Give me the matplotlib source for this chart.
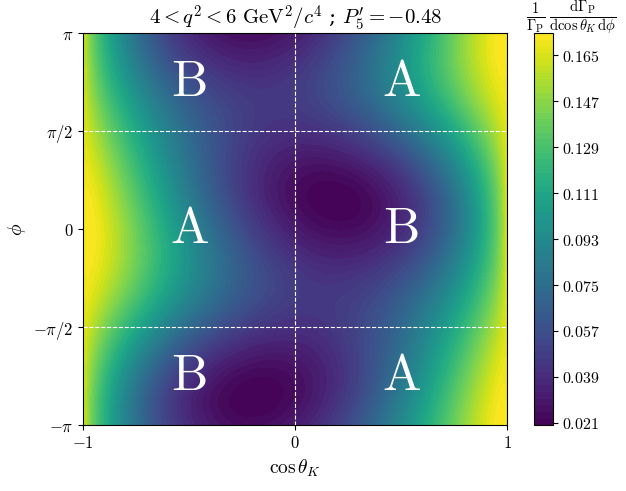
import numpy as np
import matplotlib
matplotlib.use('Agg')
import matplotlib.pyplot as plt

plt.rcParams['mathtext.fontset'] = 'cm'
plt.rcParams['font.family'] = 'serif'
plt.rcParams['font.serif'] = ['DejaVu Serif']

# angular observables (P-wave, integrated over cos theta_l)
P5p = -0.48
FL = 0.70
S3 = -0.0375
S7 = 0.0
S9 = -0.0826
S5 = P5p * np.sqrt(FL * (1 - FL))

xticks = [-1, 0, 1]
xticklabels = ['$-1$', '$0$', '$1$']
yticks = [-np.pi, -np.pi / 2, 0, np.pi / 2, np.pi]
yticklabels = [r'$-\pi$', r'$-\pi/2$', '$0$', r'$\pi/2$', r'$\pi$']
cbar_ticks = [0.021, 0.039, 0.057, 0.075, 0.093, 0.111, 0.129, 0.147, 0.165]
regions = ['B', 'A', 'A', 'B', 'B', 'A']

ck = np.linspace(-1, 1, 500)
phi = np.linspace(-np.pi, np.pi, 500)
C, PHI = np.meshgrid(ck, phi)
S = np.sqrt(1 - C**2)

Z = 3 / (8 * np.pi) * ((1 - FL) * S**2 + 2 * FL * C**2
                       + S3 * S**2 * np.cos(2 * PHI) + S9 * S**2 * np.sin(2 * PHI)
                       + 3 * np.pi / 4 * S * C * (S5 * np.cos(PHI) + S7 * np.sin(PHI)))

fig = plt.figure(figsize=(6.26, 4.91), dpi=100)
ax = fig.add_axes([0.133, 0.134, 0.677, 0.799])
cax = fig.add_axes([0.853, 0.134, 0.030, 0.799])

levels = np.linspace(Z.min(), Z.max(), 60)
cs = ax.contourf(C, PHI, Z, levels=levels, cmap='viridis')

ax.axvline(0, color='white', ls='--', lw=0.8)
ax.axhline(np.pi / 2, color='white', ls='--', lw=0.8)
ax.axhline(-np.pi / 2, color='white', ls='--', lw=0.8)

k = 0
for yy in [3 * np.pi / 4, 0, -3 * np.pi / 4]:
    for xx in [-0.5, 0.5]:
        ax.text(xx, yy, r'$\mathrm{%s}$' % regions[k], color='white', fontsize=37,
                ha='center', va='center')
        k += 1

ax.set_xlim(-1, 1)
ax.set_ylim(-np.pi, np.pi)
ax.set_xticks(xticks)
ax.set_xticklabels(xticklabels, fontsize=12)
ax.set_yticks(yticks)
ax.set_yticklabels(yticklabels, fontsize=12)
ax.set_xlabel(r'$\cos\theta_K$', fontsize=14)
ax.set_ylabel(r'$\phi$', fontsize=14)
ax.set_title(r"$4 < q^2 < 6\ \mathrm{GeV}^2/c^4$ ; $P_5' = -0.48$", fontsize=15, pad=5)

cb = fig.colorbar(cs, cax=cax, ticks=cbar_ticks)
cb.ax.set_yticklabels(['$%.3f$' % t for t in cbar_ticks], fontsize=11.5)
fig.text(0.912, 0.963, r'$\frac{1}{\Gamma_\mathrm{P}}\,\frac{\mathrm{d}\Gamma_\mathrm{P}}{\mathrm{d}\cos\theta_K\,\mathrm{d}\phi}$',
         ha='center', va='center', fontsize=15)

fig.savefig('out.png', dpi=100)
